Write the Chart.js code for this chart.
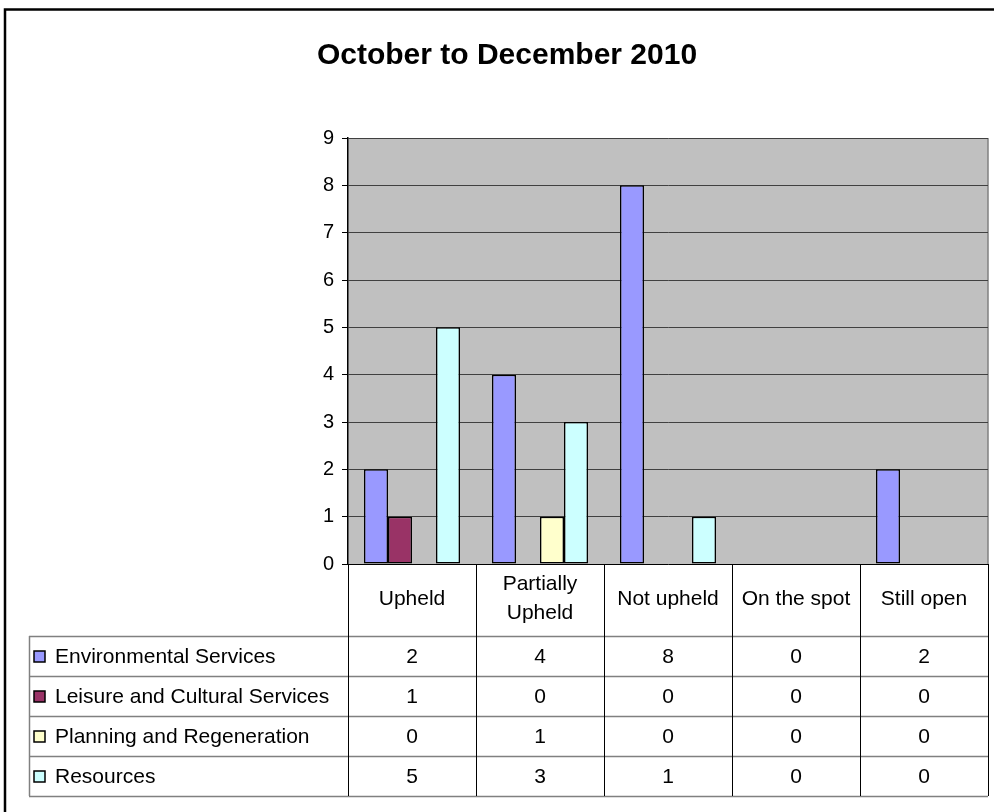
<!DOCTYPE html>
<html>
<head>
<meta charset="utf-8">
<script src="https://cdn.jsdelivr.net/npm/chart.js@4/dist/chart.umd.min.js"></script>
<style>
  html, body { margin: 0; padding: 0; background: #fff; }
  #wrap { width: 994px; height: 812px; }
</style>
</head>
<body>
<div id="wrap"><canvas id="complaintsChart" width="994" height="812"></canvas></div>
<script>
// Chart data
const categories = [['Upheld'], ['Partially', 'Upheld'], ['Not upheld'], ['On the spot'], ['Still open']];
const seriesNames = ['Environmental Services', 'Leisure and Cultural Services', 'Planning and Regeneration', 'Resources'];
const environmental = [2, 4, 8, 0, 2];
const leisure = [1, 0, 0, 0, 0];
const planning = [0, 1, 0, 0, 0];
const resources = [5, 3, 1, 0, 0];
const yTicks = [0, 1, 2, 3, 4, 5, 6, 7, 8, 9];

const seriesColors = ['#9999FF', '#993366', '#FFFFCC', '#CCFFFF'];
const FONT = '"Liberation Sans", Arial, sans-serif';

// Gray plot background + frame
const plotBackground = {
    id: 'plotBackground',
    beforeDraw(chart) {
        const { ctx, chartArea: a } = chart;
        ctx.save();
        ctx.fillStyle = '#FFFFFF';
        ctx.fillRect(0, 0, chart.width, chart.height);
        ctx.fillStyle = '#C0C0C0';
        ctx.fillRect(a.left, a.top, a.right - a.left, a.bottom - a.top);
        ctx.strokeStyle = '#808080';
        ctx.lineWidth = 1.5;
        ctx.beginPath();
        ctx.moveTo(a.right, a.top);
        ctx.lineTo(a.right, a.bottom);
        ctx.stroke();
        ctx.restore();
    }
};

// Data table under the plot, Excel style
const dataTable = {
    id: 'dataTable',
    afterDraw(chart) {
        const { ctx, chartArea: a } = chart;
        const xScale = chart.scales.x;
        const headerBottom = a.bottom + 72;
        const rowH = 40;
        const tableLeft = 29;
        const tableBottom = headerBottom + rowH * seriesNames.length;
        const colW = (a.right - a.left) / categories.length;
        const rows = [environmental, leisure, planning, resources];

        ctx.save();

        // horizontal row lines
        ctx.strokeStyle = '#808080';
        ctx.lineWidth = 1.5;
        for (let r = 0; r <= seriesNames.length; r++) {
            const y = Math.round(headerBottom + r * rowH) + 0.5;
            ctx.beginPath();
            ctx.moveTo(tableLeft, y);
            ctx.lineTo(a.right, y);
            ctx.stroke();
        }
        ctx.beginPath();
        ctx.moveTo(tableLeft + 0.5, headerBottom);
        ctx.lineTo(tableLeft + 0.5, tableBottom);
        ctx.stroke();

        // vertical column lines
        ctx.strokeStyle = '#000000';
        ctx.lineWidth = 1;
        for (let c = 0; c <= categories.length; c++) {
            const x = Math.round(a.left + c * colW) + 0.5;
            ctx.beginPath();
            ctx.moveTo(x, a.bottom);
            ctx.lineTo(x, tableBottom);
            ctx.stroke();
        }

        // category headers
        ctx.fillStyle = '#000000';
        ctx.font = '21px ' + FONT;
        ctx.textAlign = 'center';
        ctx.textBaseline = 'middle';
        categories.forEach((lines, i) => {
            const cx = xScale.getPixelForValue(i);
            const midY = a.bottom + 35;
            const lh = 29;
            lines.forEach((line, j) => {
                ctx.fillText(line, cx, midY + (j - (lines.length - 1) / 2) * lh);
            });
        });

        // legend rows + values
        seriesNames.forEach((name, r) => {
            const cy = headerBottom + r * rowH + rowH / 2;
            ctx.fillStyle = seriesColors[r];
            ctx.fillRect(34, cy - 5, 11, 11);
            ctx.strokeStyle = '#000000';
            ctx.lineWidth = 1.5;
            ctx.strokeRect(34, cy - 5, 11, 11);
            ctx.fillStyle = '#000000';
            ctx.textAlign = 'left';
            ctx.fillText(name, 55, cy + 1);
            ctx.textAlign = 'center';
            rows[r].forEach((v, i) => {
                ctx.fillText(String(v), xScale.getPixelForValue(i), cy + 1);
            });
        });

        // outer chart border
        ctx.strokeStyle = '#000000';
        ctx.lineWidth = 2.5;
        ctx.strokeRect(5, 9.5, 1200, 1000);

        ctx.restore();
    }
};

new Chart(document.getElementById('complaintsChart').getContext('2d'), {
    type: 'bar',
    data: {
        labels: categories.map(c => c.join(' ')),
        datasets: [environmental, leisure, planning, resources].map((d, i) => ({
            label: seriesNames[i],
            data: d,
            backgroundColor: seriesColors[i],
            borderColor: '#000000',
            borderWidth: 1.5,
            borderSkipped: false,
            categoryPercentage: 0.75,
            barPercentage: 1.0
        }))
    },
    options: {
        responsive: false,
        animation: false,
        devicePixelRatio: 1,
        layout: {
            padding: { left: 26, right: 6, top: 0, bottom: 248 }
        },
        scales: {
            x: {
                display: false
            },
            y: {
                min: 0,
                max: 9,
                afterBuildTicks(scale) {
                    scale.ticks = yTicks.map(v => ({ value: v }));
                },
                afterFit(scale) {
                    scale.width = 322;
                },
                border: { display: true, color: '#000000', width: 1.5 },
                grid: {
                    color: ctx => ctx.tick && ctx.tick.value === 0 ? '#000000' : '#404040',
                    lineWidth: 1,
                    tickLength: 6,
                    tickColor: '#000000'
                },
                ticks: {
                    color: '#000000',
                    padding: 8,
                    font: { family: FONT, size: 20 }
                }
            }
        },
        plugins: {
            legend: { display: false },
            tooltip: { enabled: false },
            title: {
                display: true,
                text: 'October to December 2010',
                color: '#000000',
                font: { family: FONT, size: 30, weight: 'bold' },
                padding: { top: 38, bottom: 64 }
            }
        }
    },
    plugins: [plotBackground, dataTable]
});
</script>
</body>
</html>
